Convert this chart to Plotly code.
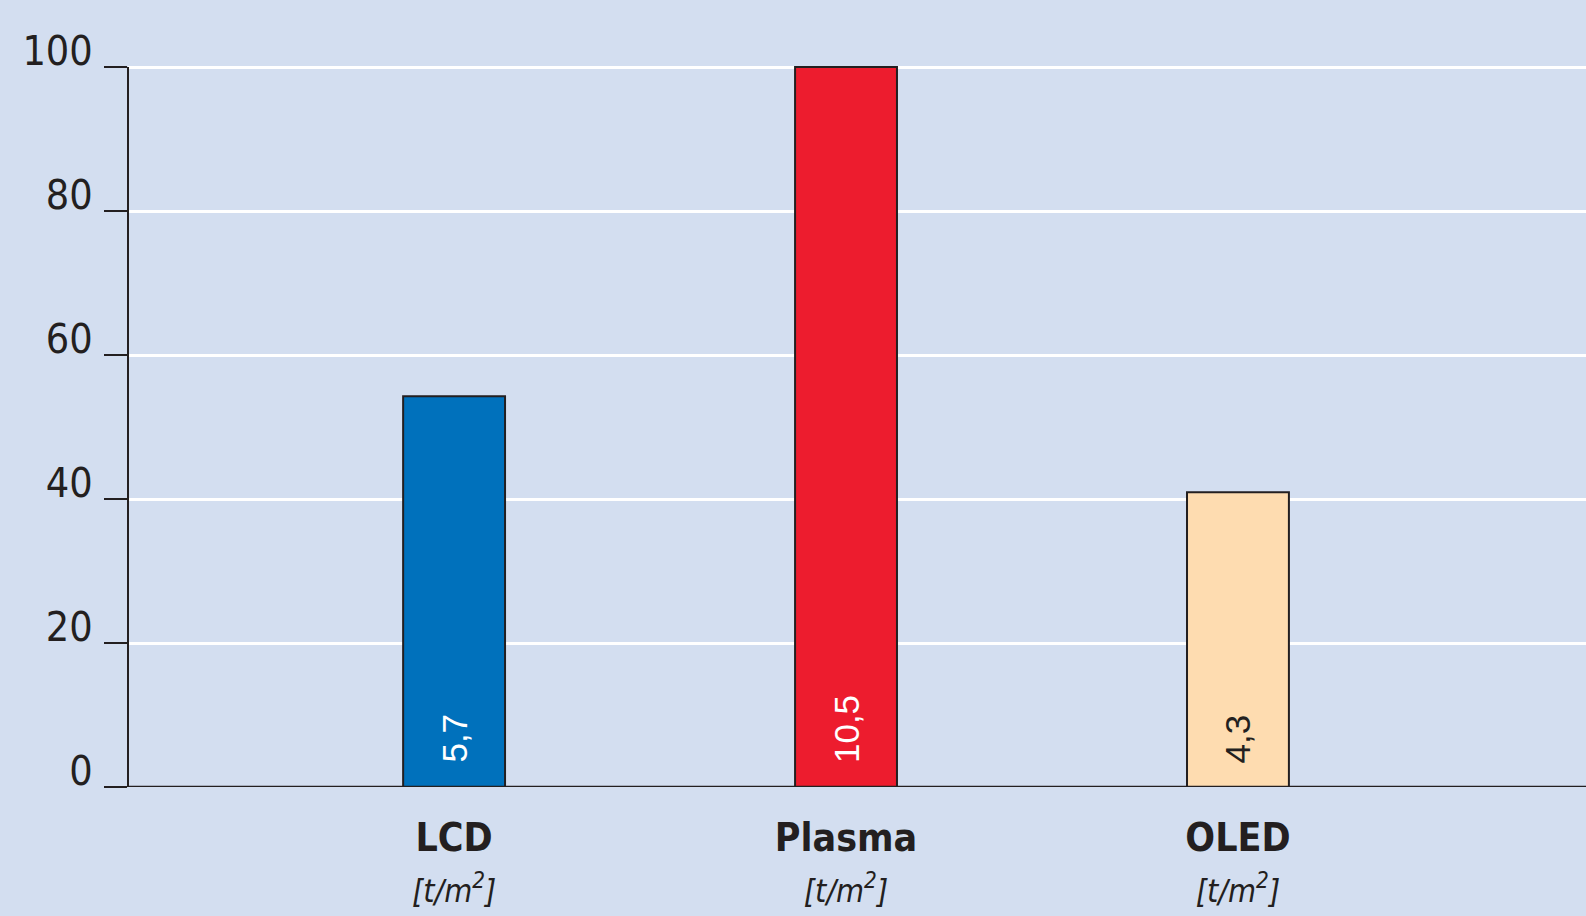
import plotly.graph_objects as go

# Display technologies and their material use per square metre
categories = ["LCD", "Plasma", "OLED"]
values = [5.7, 10.5, 4.3]            # t/m², printed in the bars
unit_label = "[t/m<sup>2</sup>]"
y_ticks = [0, 20, 40, 60, 80, 100]

bar_colors = ["#0071BC", "#ED1C2E", "#FEDCB0"]
text_colors = ["#FFFFFF", "#FFFFFF", "#231F20"]
ink = "#231F20"
bg = "#D3DEF0"
narrow = "DejaVu Sans Condensed, Liberation Sans Narrow, Arial Narrow, sans-serif"

# Bars are scaled relative to the largest value (= 100)
vmax = max(values)
heights = [v / vmax * 100 for v in values]
xpos = list(range(1, len(categories) + 1))

fig = go.Figure()
fig.add_trace(go.Bar(
    x=xpos, y=heights, customdata=values, width=0.26,
    marker=dict(color=bar_colors, line=dict(color=ink, width=2)),
    hoverinfo="skip",
))

# Rotated value labels near the foot of each bar
for x, v, c in zip(xpos, values, text_colors):
    fig.add_annotation(
        x=x, y=0, xref="x", yref="y", yanchor="bottom", yshift=22,
        text=f"{v:.1f}".replace(".", ","), textangle=-90, showarrow=False,
        font=dict(family="Liberation Sans, Arial, sans-serif", size=35, color=c),
    )

ticktext = [
    f"<b>{c}</b><br><i><span style='font-size:32px'>{unit_label}</span></i>"
    for c in categories
]

fig.update_layout(
    width=1586, height=916,
    margin=dict(l=128, r=0, t=20, b=129),
    paper_bgcolor=bg, plot_bgcolor=bg,
    showlegend=False,
    xaxis=dict(
        range=[0.168, 3.888], tickvals=xpos, ticktext=ticktext,
        showgrid=False, zeroline=False, showline=False, ticks="",
        tickfont=dict(family=narrow, size=39, color=ink),
        ticklabelstandoff=24,
    ),
    yaxis=dict(
        range=[0, 767 / 7.2], tickvals=y_ticks,
        showgrid=True, gridcolor="#FFFFFF", gridwidth=2.5,
        zeroline=False, showline=False,
        ticks="outside", ticklen=23, tickwidth=2, tickcolor=ink,
        tickfont=dict(family=narrow, size=41, color=ink),
        ticklabelshift=-16, ticklabelstandoff=3,
    ),
)

# Vertical axis line from 0 to 100 and the baseline at 0
fig.add_shape(type="line", xref="paper", yref="y", x0=0, x1=0, y0=0, y1=100,
              line=dict(color=ink, width=2))
fig.add_shape(type="line", xref="paper", yref="y", x0=0, x1=1, y0=0, y1=0,
              line=dict(color=ink, width=2.5))

fig.write_html("out.html")
